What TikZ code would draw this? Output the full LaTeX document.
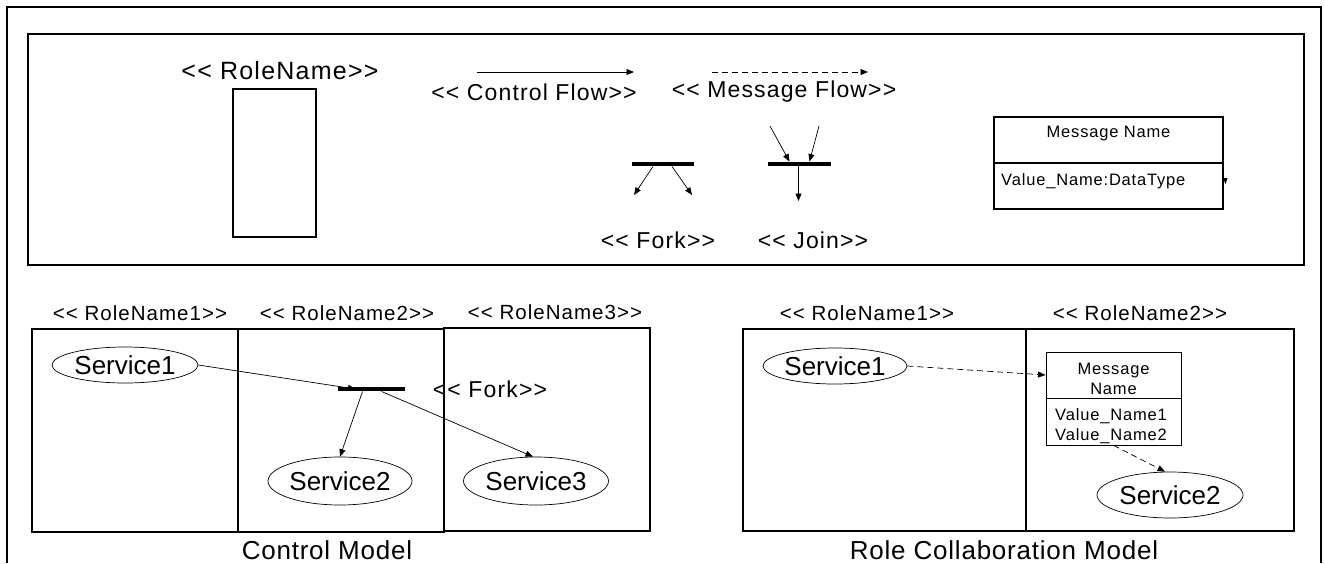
\documentclass[tikz,border=0pt]{standalone}
\usepackage{fontspec}
\setmainfont{Liberation Sans}[Ligatures=TeXOff]
\newfontfamily\lblfont{Liberation Sans}[LetterSpace=5, Ligatures=TeXOff]
\newfontfamily\capfont{Liberation Sans}[LetterSpace=3, Ligatures=TeXOff]
\newfontfamily\svcfont{Liberation Sans}[Ligatures=TeXOff]
\usetikzlibrary{arrows.meta,shapes.geometric}

\tikzset{
  frame/.style={draw, line width=1.3pt},
  box/.style={draw, line width=1.1pt, inner sep=0pt},
  lane/.style={draw, line width=1.4pt, inner sep=0pt},
  flow/.style={-{Triangle[length=7.5pt,width=6pt]}, line width=0.7pt},
  msgflow/.style={flow, dash pattern=on 6pt off 4pt},
  bar/.style={fill=black, inner sep=0pt, minimum height=4.5pt},
  svc/.style={ellipse, draw, line width=0.7pt, inner sep=0pt, font=\svcfont\fontsize{26}{28}\selectfont},
  biglbl/.style={font=\lblfont\fontsize{23}{26}\selectfont, inner sep=0pt},
  rolelbl/.style={font=\lblfont\fontsize{20.5}{24}\selectfont, inner sep=0pt},
  smalltxt/.style={font=\lblfont\fontsize{16.5}{20}\selectfont, inner sep=0pt},
  caption/.style={font=\capfont\fontsize{26}{30}\selectfont, inner sep=0pt, anchor=base},
}

\begin{document}
\begin{tikzpicture}[x=1pt, y=-1pt]
\useasboundingbox (0,0) rectangle (1325,563);

% outer frame, open at the bottom
\coordinate (fbl) at (7,563);
\coordinate (ftl) at (7,7);
\coordinate (ftr) at (1321,7);
\coordinate (fbr) at (1321,563);
\draw[frame] (fbl) -- (ftl) -- (ftr) -- (fbr);

% ---------- legend ----------
\node[frame, minimum width=1276pt, minimum height=231pt, inner sep=0pt] (legend) at (666,149.5) {};

% role
\node[biglbl, font=\lblfont\fontsize{25}{28}\selectfont] (rolelbl) at (280,71) {<< RoleName>>};
\node[box, minimum width=83pt, minimum height=148pt] (rolebox) at (274.5,163) {};

% control flow / message flow
\coordinate (cfa) at (477,72);
\coordinate (cfb) at (634,72);
\draw[flow] (cfa) -- (cfb);
\node[biglbl] (cflbl) at (534,92) {<< Control Flow>>};

\coordinate (mfa) at (712,72);
\coordinate (mfb) at (868,72);
\draw[msgflow] (mfa) -- (mfb);
\node[biglbl] (mflbl) at (784,92) {<< Message Flow>>};

% fork
\node[bar, minimum width=62pt] (forkbar) at (663,164) {};
\coordinate (fka) at (634,195);
\coordinate (fkb) at (692,195);
\draw[flow] ([xshift=-10pt]forkbar.south) -- (fka);
\draw[flow] ([xshift=9pt]forkbar.south) -- (fkb);
\node[biglbl] (forklbl) at (658,240) {<< Fork>>};

% join
\node[bar, minimum width=63pt] (joinbar) at (799.5,164) {};
\coordinate (jna) at (770,126);
\coordinate (jnb) at (819,126);
\coordinate (jnc) at (798.5,201);
\draw[flow] (jna) -- ([xshift=-10pt]joinbar.north);
\draw[flow] (jnb) -- ([xshift=10pt]joinbar.north);
\draw[flow] ([xshift=-1pt]joinbar.south) -- (jnc);
\node[biglbl] (joinlbl) at (813,240) {<< Join>>};

% message
\node[box, minimum width=229pt, minimum height=92pt] (msgbox) at (1108.5,163) {};
\draw[line width=1.1pt] (msgbox.west) -- (msgbox.east);
\node[smalltxt] (msgname) at (1108.5,134) {Message Name};
\node[smalltxt, anchor=west] (msgval) at (1001,181) {Value\_Name:DataType};
\fill (1223,178) -- (1227.5,178) -- (1225.5,184) -- cycle;

% ---------- control model ----------
\node[rolelbl] (cr1) at (140,313) {<< RoleName1>>};
\node[rolelbl] (cr2) at (347,313) {<< RoleName2>>};
\node[rolelbl] (cr3) at (555,312) {<< RoleName3>>};

\node[lane, minimum width=206pt, minimum height=203pt] (lane1) at (135,430.5) {};
\node[lane, minimum width=206pt, minimum height=203pt] (lane2) at (341,430.5) {};
\node[lane, minimum width=206pt, minimum height=203pt] (lane3) at (547,429.5) {};

\node[svc, minimum width=146pt, minimum height=36pt] (cs1) at (125,365) {Service1};
\node[svc, minimum width=144pt, minimum height=48pt] (cs2) at (340,481) {Service2};
\node[svc, minimum width=145pt, minimum height=48pt] (cs3) at (536,481) {Service3};

\node[bar, minimum width=67pt] (cbar) at (371.5,389) {};
\node[biglbl] (cforklbl) at (490,389) {<< Fork>>};

\draw[flow] (cs1.east) -- ([xshift=-16pt]cbar.center);
\draw[flow] ([xshift=-9pt]cbar.south) -- (cs2.north);
\draw[flow] ([xshift=10pt]cbar.south) -- ([xshift=-3pt]cs3.north);

\node[caption] (ctlcap) at (327,559) {Control Model};

% ---------- role collaboration model ----------
\node[rolelbl] (rr1) at (867,313) {<< RoleName1>>};
\node[rolelbl] (rr2) at (1140,313) {<< RoleName2>>};

\node[lane, minimum width=283pt, minimum height=202pt] (lane4) at (884.5,430) {};
\node[lane, minimum width=268pt, minimum height=202pt] (lane5) at (1160,430) {};

\node[svc, minimum width=144pt, minimum height=36pt] (rs1) at (835,366) {Service1};
\node[svc, minimum width=146pt, minimum height=46pt] (rs2) at (1170,495) {Service2};

\node[box, line width=0.9pt, minimum width=135pt, minimum height=93pt] (mbox) at (1113.5,398.5) {};
\draw[line width=0.9pt] (mbox.west) -- (mbox.east);
\node[smalltxt, align=center] (mboxname) at (1113.5,379) {Message\\Name};
\node[smalltxt, align=left, anchor=west] (mboxval) at (1055,426) {Value\_Name1\\Value\_Name2};

\draw[msgflow] (rs1.east) -- ([yshift=23.5pt]mbox.west);
\draw[msgflow] (mbox.south) -- ([xshift=-5pt]rs2.north);

\node[caption] (rcmcap) at (1004,559) {Role Collaboration Model};
\end{tikzpicture}
\end{document}
